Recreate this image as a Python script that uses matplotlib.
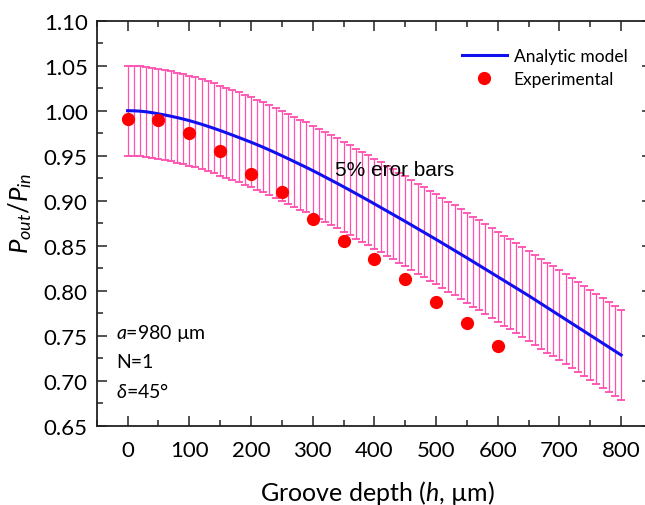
import matplotlib
matplotlib.use("Agg")
import matplotlib.pyplot as plt
from matplotlib.ticker import MultipleLocator

plt.rcParams['font.family'] = ['Lato', 'DejaVu Sans']
plt.rcParams['mathtext.fontset'] = 'custom'
plt.rcParams['mathtext.rm'] = 'Lato'
plt.rcParams['mathtext.it'] = 'Lato:italic'

# Analytic model, h step 10 um
model_h = list(range(0, 810, 10))
model_p = [1.0000, 0.9999, 0.9995, 0.9988, 0.9978, 0.9965, 0.9953, 0.9939, 0.9924, 0.9908,
           0.9890, 0.9870, 0.9849, 0.9827, 0.9804, 0.9780, 0.9755, 0.9729, 0.9703, 0.9677,
           0.9650, 0.9622, 0.9593, 0.9563, 0.9532, 0.9500, 0.9468, 0.9435, 0.9402, 0.9369,
           0.9335, 0.9300, 0.9264, 0.9228, 0.9192, 0.9155, 0.9118, 0.9080, 0.9042, 0.9004,
           0.8965, 0.8926, 0.8887, 0.8848, 0.8809, 0.8770, 0.8730, 0.8690, 0.8650, 0.8610,
           0.8570, 0.8529, 0.8488, 0.8447, 0.8406, 0.8365, 0.8323, 0.8281, 0.8239, 0.8197,
           0.8155, 0.8113, 0.8071, 0.8029, 0.7987, 0.7945, 0.7901, 0.7857, 0.7813, 0.7769,
           0.7725, 0.7681, 0.7637, 0.7593, 0.7549, 0.7505, 0.7461, 0.7417, 0.7373, 0.7329,
           0.7285]
error_half = 0.05

# Experimental points
exp_h = [0, 50, 100, 150, 200, 250, 300, 350, 400, 450, 500, 550, 600]
exp_p = [0.991, 0.990, 0.975, 0.955, 0.930, 0.910, 0.880, 0.855, 0.835, 0.813, 0.788, 0.764, 0.739]

x_ticks = [0, 100, 200, 300, 400, 500, 600, 700, 800]
y_ticks = [0.65, 0.70, 0.75, 0.80, 0.85, 0.90, 0.95, 1.00, 1.05, 1.10]

W, H = 645, 506
fig = plt.figure(figsize=(W / 100, H / 100), dpi=100)
ax = fig.add_axes([96.7 / W, 1 - 426.7 / H, (652 - 96.7) / W, (426.7 - 21.7) / H])

eb = ax.errorbar(model_h, model_p, yerr=error_half, fmt='none', ecolor='#FF4FAF',
                 elinewidth=0.9, capsize=3.0, capthick=1.3, zorder=2)
for cl in eb[1]:
    cl.set_color('#FF9ACB')
line, = ax.plot(model_h, model_p, color='#1010F0', lw=2.2, zorder=3, label='Analytic model')
pts, = ax.plot(exp_h, exp_p, 'o', color='#FF0000', ms=8.5, mec='#FF0000', zorder=4,
               linestyle='none', label='Experimental')

ax.set_xlim(-50, 850)
ax.set_ylim(0.65, 1.10)
ax.set_xticks(x_ticks)
ax.set_yticks(y_ticks)
ax.set_yticklabels([f'{v:.2f}' for v in y_ticks])
ax.xaxis.set_minor_locator(MultipleLocator(50))
ax.yaxis.set_minor_locator(MultipleLocator(0.025))
ax.tick_params(which='both', direction='in', top=True, right=True, width=1.1, color='#222222')
ax.tick_params(which='major', length=7, labelsize=16)
ax.tick_params(axis='x', which='major', pad=10)
ax.tick_params(axis='y', which='major', pad=6.5)
ax.tick_params(which='minor', length=4)
for s in ax.spines.values():
    s.set_linewidth(1.3)
    s.set_color('#222222')

fig.text(377.5 / W, 1 - 493 / H, 'Groove depth ($\\it{h}$, \u00b5m)', fontsize=18,
         ha='center', va='center')
fig.text(20 / W, 1 - 213 / H, '$P_{out}$/$P_{in}$', fontsize=18.5, rotation=90,
         ha='center', va='center')

fig.text(335 / W, 1 - 170 / H, '5% eror bars', fontsize=15,
         family='Liberation Sans', va='center', ha='left')

fig.text(116 / W, 1 - 334 / H, '$\\it{a}$=980 \u00b5m', fontsize=14, va='center', ha='left')
fig.text(116 / W, 1 - 363 / H, 'N=1', fontsize=14, va='center', ha='left')
fig.text(116 / W, 1 - 392 / H, '$\\it{\\delta}$=45\u00b0', fontsize=14, va='center', ha='left')

leg = ax.legend(handles=[line, pts], loc='upper left', bbox_to_anchor=(453 / W, 1 - 40 / H),
                bbox_transform=fig.transFigure, frameon=False, fontsize=12.5,
                handlelength=2.6, handletextpad=0.4, labelspacing=0.45, borderpad=0)

fig.savefig('out.png', dpi=100)
